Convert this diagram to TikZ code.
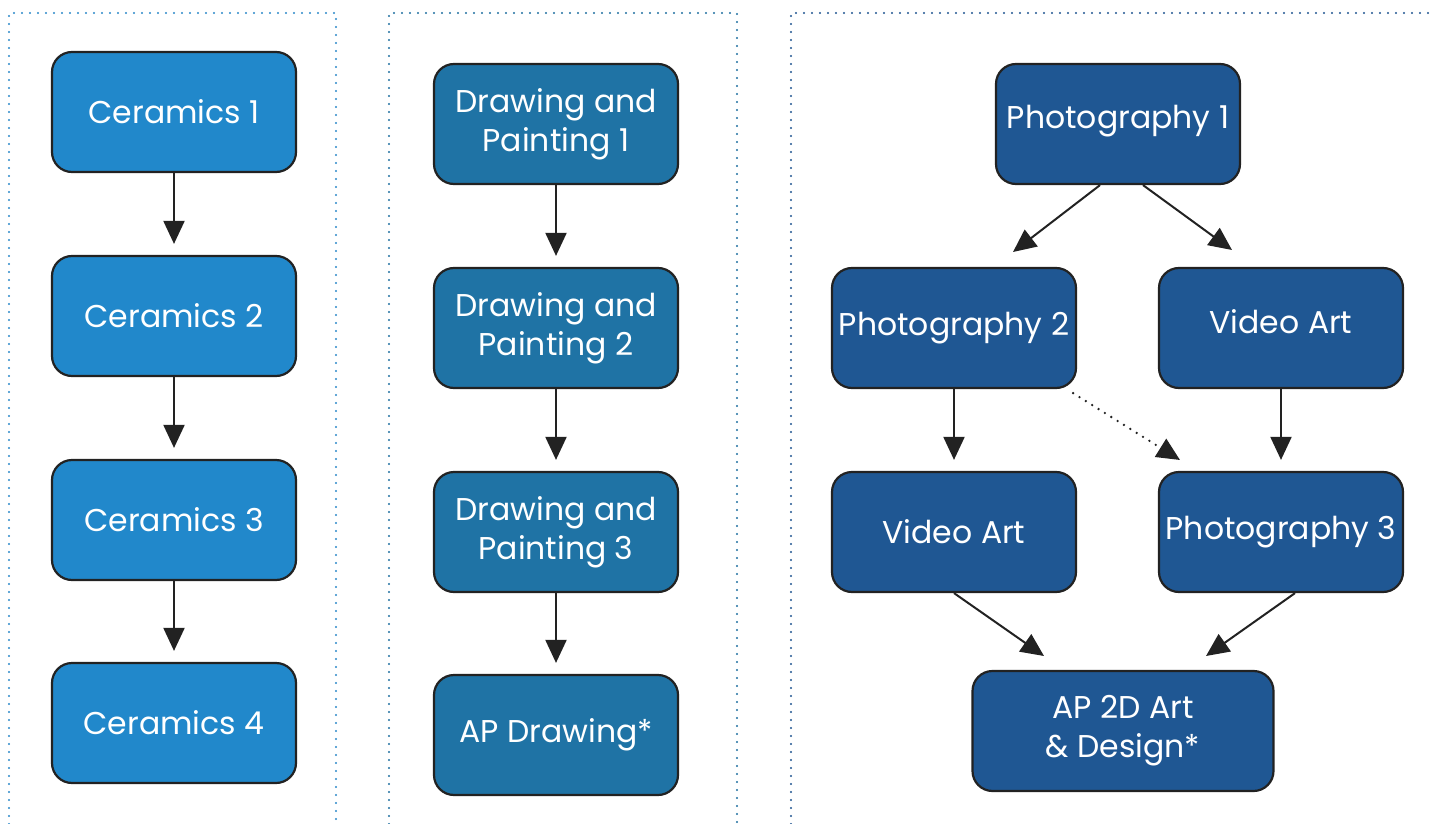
\documentclass[tikz,border=0pt]{standalone}
\usepackage{fontspec}
\setmainfont{Poppins}
\usetikzlibrary{arrows.meta,calc}
\definecolor{cerfill}{HTML}{2188CB}
\definecolor{drwfill}{HTML}{1F73A5}
\definecolor{phofill}{HTML}{1F5793}
\definecolor{edge}{HTML}{222222}
\definecolor{fr1}{HTML}{2A89C8}
\definecolor{fr2}{HTML}{1F6FA0}
\definecolor{fr3}{HTML}{1F5590}
\tikzset{
  box/.style={draw=edge,line width=2.2pt,rounded corners=20pt,minimum width=244pt,minimum height=120pt,text=white,align=center,inner sep=0pt,font=\fontsize{31.5}{39}\selectfont},
  cer/.style={box,fill=cerfill},
  drw/.style={box,fill=drwfill},
  pho/.style={box,fill=phofill},
  conn/.style={draw=edge,line width=2pt,-{Triangle[length=23pt,width=21pt]}},
  dotconn/.style={draw=edge,line width=2.6pt,dash pattern=on 0pt off 7.5pt,line cap=round,-{Triangle[length=23pt,width=21pt]}},
  frame/.style={line width=2.4pt,dash pattern=on 0pt off 8pt,line cap=round}
}
\begin{document}
\begin{tikzpicture}[x=1pt,y=-1pt]
\useasboundingbox (0,0) rectangle (1430,824);
% frames
\draw[frame,draw=fr1] (9,824) -- (9,13) -- (336,13) -- (336,824);
\draw[frame,draw=fr2] (389,824) -- (389,13) -- (737,13) -- (737,824);
\draw[frame,draw=fr3] (791,824) -- (791,13) -- (1430,13);
% ceramics
\node[cer] (c1) at (174,112) {Ceramics 1};
\node[cer] (c2) at (174,316) {Ceramics 2};
\node[cer] (c3) at (174,520) {Ceramics 3};
\node[cer] (c4) at (174,723) {Ceramics 4};
\draw[conn,shorten >=11pt] (c1) -- (c2);
\draw[conn,shorten >=11pt] (c2) -- (c3);
\draw[conn,shorten >=11pt] (c3) -- (c4);
% drawing
\node[drw] (d1) at (556,124) {Drawing and\\Painting 1};
\node[drw] (d2) at (556,328) {Drawing and\\Painting 2};
\node[drw] (d3) at (556,532) {Drawing and\\Painting 3};
\node[drw] (d4) at (556,735) {AP Drawing*};
\draw[conn,shorten >=11pt] (d1) -- (d2);
\draw[conn,shorten >=11pt] (d2) -- (d3);
\draw[conn,shorten >=11pt] (d3) -- (d4);
% photography
\node[pho] (p1) at (1118,124) {Photography 1\rule[-14pt]{0pt}{0pt}};
\node[pho] (p2) at (954,328) {Photography 2\rule[-6pt]{0pt}{0pt}};
\node[pho] (v1) at (1281,328) {Video Art\rule[-12pt]{0pt}{0pt}};
\node[pho] (v2) at (954,532) {Video Art};
\node[pho] (p3) at (1281,532) {Photography 3\rule[-6pt]{0pt}{0pt}};
\node[pho,minimum width=301pt] (ap) at (1123,731) {AP 2D Art\\\& Design*};
\coordinate (t12) at (1013,252);
\coordinate (t1v) at (1232,250);
\coordinate (t23) at (1180,460);
\coordinate (tva) at (1044,656);
\coordinate (t3a) at (1206,656);
\draw[conn] ([xshift=-18pt]p1.south) -- (t12);
\draw[conn] ([xshift=25pt]p1.south) -- (t1v);
\draw[conn,shorten >=11pt] (p2) -- (v2);
\draw[conn,shorten >=11pt] (v1) -- (p3);
\draw[dotconn] ([shift={(-4pt,-4pt)}]p2.south east) -- (t23);
\draw[conn] (v2.south) -- (tva);
\draw[conn] ([xshift=14pt]p3.south) -- (t3a);
\end{tikzpicture}
\end{document}
